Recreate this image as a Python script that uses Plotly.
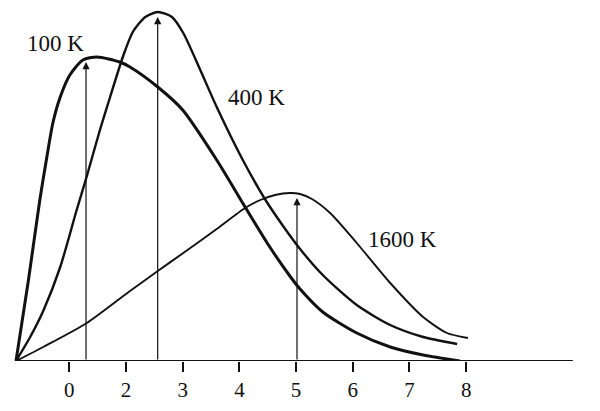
import plotly.graph_objects as go

# ---- data ----
x_100K = [0.06, 0.28, 0.48, 0.61, 0.71, 0.84, 1.01, 1.24, 1.49, 1.89, 2.07, 2.56, 3.00, 3.60, 4.10, 4.49, 4.89, 5.07, 5.47, 6.07, 6.66, 7.24, 7.89]
y_100K = [0, 81, 161, 206, 238, 264, 286, 301, 304, 299, 294, 274, 251, 201, 154, 118, 85, 72, 49, 28, 14, 6, 0]

x_400K = [0.06, 0.31, 0.54, 0.84, 1.13, 1.31, 1.54, 1.72, 1.95, 2.12, 2.34, 2.56, 2.81, 3.01, 3.31, 3.60, 4.06, 4.45, 4.77, 5.07, 5.47, 6.07, 6.66, 7.24, 7.84]
y_400K = [0, 24, 50, 94, 151, 185, 231, 264, 305, 329, 344, 349, 344, 328, 291, 254, 201, 162, 135, 112, 86, 56, 36, 24, 17]

x_1600K = [0.06, 0.54, 1.31, 2.07, 2.56, 3.01, 3.60, 4.10, 4.37, 4.63, 4.89, 5.07, 5.28, 5.60, 6.07, 6.66, 7.24, 7.66, 8.03]
y_1600K = [0, 14, 38, 70, 90, 108, 132, 153, 161, 166, 168, 167, 162, 148, 118, 78, 44, 28, 23]

peak_x = [1.295, 2.559, 5.016]
peak_tip_y = [299, 344, 163]

label_text = ["100 K", "400 K", "1600 K"]
label_x = [0.75, 4.31, 6.87]
label_y = [318, 264, 122]

tick_vals = [1, 2, 3, 4, 5, 6, 7, 8]
tick_text = ["0", "2", "3", "4", "5", "6", "7", "8"]

axis_start, axis_end = 0.06, 9.88

fig = go.Figure()
series = [(x_100K, y_100K, 3.0), (x_400K, y_400K, 2.4), (x_1600K, y_1600K, 1.9)]
for xs, ys, w in series:
    fig.add_trace(go.Scatter(x=xs, y=ys, mode="lines",
                             line=dict(color="#111111", width=w, shape="spline", smoothing=0.7),
                             showlegend=False, hoverinfo="skip"))

# baseline axis
fig.add_shape(type="line", x0=axis_start, x1=axis_end, y0=0, y1=0,
              line=dict(color="#111111", width=2), layer="above")

# arrows at peaks
for px, py in zip(peak_x, peak_tip_y):
    fig.add_annotation(x=px, y=py, ax=px, ay=0, axref="x", ayref="y",
                       xref="x", yref="y", text="", showarrow=True,
                       arrowhead=2, arrowsize=1.2, arrowwidth=1.2,
                       arrowcolor="#111111", standoff=0, startstandoff=0)

for t, lx, ly in zip(label_text, label_x, label_y):
    fig.add_annotation(x=lx, y=ly, text=t, showarrow=False,
                       font=dict(family="Liberation Serif", size=23, color="#111111"))

fig.update_layout(
    width=600, height=411,
    margin=dict(l=0, r=0, t=0, b=58),
    paper_bgcolor="white", plot_bgcolor="white",
    xaxis=dict(range=[-0.0811, 10.501], showgrid=False, zeroline=False, showline=False,
               tickmode="array", tickvals=tick_vals, ticktext=tick_text,
               ticks="outside", ticklen=10, tickwidth=2, tickcolor="#111111",
               tickfont=dict(family="Liberation Serif", size=21, color="#111111"),
               fixedrange=True),
    yaxis=dict(range=[0, 353], showgrid=False, zeroline=False, showline=False,
               showticklabels=False, ticks="", fixedrange=True),
)

fig.write_html("out.html")
